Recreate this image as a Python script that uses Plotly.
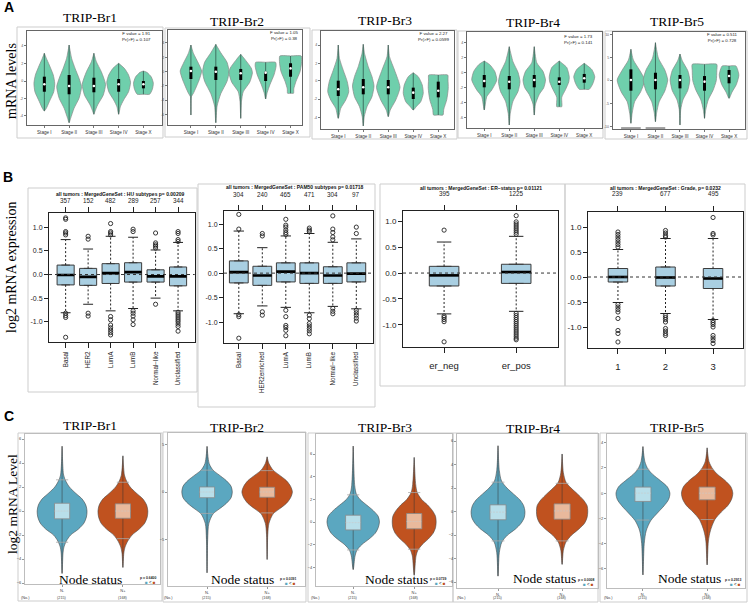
import plotly.graph_objects as go

W, H = 748, 605
SERIF = "Liberation Serif, Times New Roman, serif"
SANS = "Liberation Sans, Arial, sans-serif"
MINT = "#6fcfac"
LIGHTBLUE = "#a9cfe2"
C_BLUE = "#5ba7c0"
C_ORANGE = "#c0521f"
C_BLUE_BOX = "#b9dfea"
C_ORANGE_BOX = "#e9b99c"

# ---------------- Panel A : expression by stage ----------------
A_GENES = ["TRIP-Br1", "TRIP-Br2", "TRIP-Br3", "TRIP-Br4", "TRIP-Br5"]
A_STAGES = ["Stage I", "Stage II", "Stage III", "Stage IV", "Stage X"]
A_FVALUES = ["1.91", "1.05", "2.27", "1.73", "0.511"]
A_PVALUES = ["0.107", "0.38", "0.0599", "0.141", "0.728"]

BR1_LEVELS = [
    [1.49, 1.78, 2.48, 3.54, 4.44, 5.32, 6.38, 7.1, 7.63],
    [0.24, 0.71, 1.78, 2.84, 4.07, 4.97, 6.03, 7.1, 8.51],
    [1.14, 1.41, 2.13, 3.19, 4.33, 5.67, 6.73, 7.63],
    [1.14, 1.95, 2.66, 3.54, 4.54, 5.32, 6.03, 6.56],
    [3.27, 3.27, 3.8, 4.44, 5.1, 5.6, 5.74],
]
BR1_WIDTHS = [
    [0, 0.08, 0.2, 0.38, 0.42, 0.36, 0.2, 0.08, 0],
    [0, 0.06, 0.2, 0.4, 0.5, 0.4, 0.24, 0.1, 0],
    [0, 0.04, 0.15, 0.38, 0.47, 0.3, 0.1, 0],
    [0, 0.07, 0.2, 0.4, 0.48, 0.4, 0.23, 0],
    [0, 0.25, 0.36, 0.4, 0.32, 0.14, 0],
]
BR1_Q1 = [3.54, 3.27, 3.48, 3.54, 3.9]
BR1_MED = [4.33, 4.15, 4.15, 4.33, 4.33]
BR1_Q3 = [5.14, 5.32, 5.03, 4.89, 4.68]

BR2_LEVELS = [
    [1.05, 2.98, 3.34, 4.74, 5.68, 6.5, 7.55, 8.42],
    [0.24, 2.0, 3.3, 4.6, 5.61, 6.6, 7.6, 8.49],
    [0.7, 2.5, 3.5, 4.5, 5.5, 6.0, 6.8, 7.44],
    [2.74, 3.4, 4.3, 5.3, 6.2, 6.6, 6.6],
    [3.34, 3.34, 3.8, 4.6, 5.6, 6.5, 7.26, 7.26],
]
BR2_WIDTHS = [
    [0, 0.02, 0.1, 0.33, 0.43, 0.3, 0.1, 0],
    [0, 0.05, 0.2, 0.45, 0.53, 0.45, 0.2, 0],
    [0, 0.03, 0.1, 0.36, 0.47, 0.42, 0.2, 0],
    [0, 0.06, 0.18, 0.34, 0.42, 0.4, 0],
    [0, 0.12, 0.13, 0.22, 0.38, 0.44, 0.43, 0],
]
BR2_Q1 = [4.84, 4.74, 4.74, 4.63, 5.08]
BR2_MED = [5.68, 5.61, 5.44, 5.51, 5.96]
BR2_Q3 = [6.14, 6.14, 5.9, 5.61, 6.5]

BR3_LEVELS = [
    [1.09, 2.11, 2.96, 3.8, 4.83, 6.0, 7.2, 8.57],
    [0.31, 1.26, 2.28, 3.3, 4.39, 5.34, 6.36, 7.72, 8.64],
    [1.26, 1.94, 2.96, 4.25, 6.02, 7.38, 8.57],
    [1.94, 2.28, 2.79, 3.64, 4.49, 5.34, 5.74],
    [1.43, 1.43, 2.0, 3.0, 4.15, 5.0, 5.51, 5.51],
]
BR3_WIDTHS = [
    [0, 0.1, 0.3, 0.42, 0.36, 0.2, 0.05, 0],
    [0, 0.04, 0.15, 0.35, 0.43, 0.35, 0.2, 0.05, 0],
    [0, 0.08, 0.3, 0.47, 0.25, 0.05, 0],
    [0, 0.12, 0.3, 0.4, 0.36, 0.2, 0],
    [0, 0.19, 0.22, 0.34, 0.4, 0.39, 0.38, 0],
]
BR3_Q1 = [3.37, 3.54, 3.54, 3.06, 3.23]
BR3_MED = [4.05, 4.26, 4.26, 3.71, 3.9]
BR3_Q3 = [4.93, 5.1, 5.0, 4.22, 4.83]

BR4_LEVELS = [
    [1.88, 3.26, 3.96, 5.0, 5.9, 6.6, 6.98],
    [0.31, 1.5, 2.8, 3.8, 4.82, 5.8, 6.9, 8.47],
    [1.35, 2.5, 3.5, 4.2, 5.0, 5.9, 6.8, 8.47],
    [2.22, 2.22, 3.2, 4.0, 4.8, 5.34, 6.3, 6.98],
    [4.03, 4.03, 4.6, 5.34, 6.1, 6.74],
]
BR4_WIDTHS = [
    [0, 0.1, 0.3, 0.5, 0.42, 0.22, 0],
    [0, 0.04, 0.15, 0.35, 0.43, 0.35, 0.15, 0],
    [0, 0.05, 0.2, 0.38, 0.45, 0.35, 0.1, 0],
    [0, 0.1, 0.1, 0.25, 0.38, 0.4, 0.3, 0],
    [0, 0.2, 0.34, 0.42, 0.3, 0],
]
BR4_Q1 = [4.24, 4.03, 4.24, 4.48, 4.72]
BR4_MED = [4.9, 4.82, 5.0, 4.82, 5.18]
BR4_Q3 = [5.52, 5.42, 5.52, 5.28, 5.63]

BR5_LEVELS = [
    [0.59, 1.62, 2.81, 3.85, 5.05, 6.08, 7.11, 8.22],
    [0.75, 1.7, 2.8, 3.9, 5.05, 6.1, 7.3, 8.9],
    [0.41, 2.0, 3.0, 4.0, 5.05, 6.0, 7.0, 7.73],
    [1.1, 2.0, 3.0, 4.0, 5.0, 6.0, 6.67, 6.67],
    [3.16, 3.8, 4.6, 5.57, 6.5, 6.5],
]
BR5_WIDTHS = [
    [0, 0.05, 0.15, 0.4, 0.56, 0.35, 0.1, 0],
    [0, 0.05, 0.15, 0.38, 0.5, 0.38, 0.12, 0],
    [0, 0.03, 0.12, 0.32, 0.4, 0.32, 0.1, 0],
    [0, 0.05, 0.15, 0.35, 0.48, 0.5, 0.5, 0],
    [0, 0.12, 0.3, 0.4, 0.28, 0],
]
BR5_Q1 = [3.95, 4.09, 4.19, 3.95, 4.71]
BR5_MED = [5.05, 5.05, 5.05, 4.88, 5.46]
BR5_Q3 = [6.15, 5.8, 5.57, 5.46, 6.08]
BR5_FLOOR_STAGES = [0, 1]
BR5_FLOOR_LEVEL = 0.1
BR5_FLOOR_HALF = 0.4

A_YTICKVALS = [
    [0.99, 2.84, 4.68, 6.56, 8.44],
    [1.13, 2.63, 4.11, 5.61, 7.13, 8.66],
    [1.19, 3.06, 4.9, 6.7, 8.57],
    [1.11, 2.64, 4.24, 5.8, 7.36, 8.89],
    [0.24, 2.65, 5.05, 7.39, 9.76],
]
A_YTICKTEXT = [
    ["-4", "-2", "0", "2", "4"],
    ["-6", "-4", "-2", "0", "2", "4"],
    ["-4", "-2", "0", "2", "4"],
    ["-6", "-4", "-2", "0", "2", "4"],
    ["-10", "-5", "0", "5", "10"],
]

# ---------------- Panel B : subtype boxplots ----------------
B_TITLES = [
    "all tumors : MergedGeneSet : HU subtypes p= 0.00209",
    "all tumors : MergedGeneSet : PAM50 subtypes p= 0.01718",
    "all tumors : MergedGeneSet : ER\u2212status p= 0.01121",
    "all tumors : MergedGeneSet : Grade, p= 0.0232",
]
B1_CATS = ["Basal", "HER2", "LumA", "LumB", "Normal\u2212like", "Unclassified"]
B1_COUNTS = ["357", "152", "482", "289", "257", "344"]
B1_Q1 = [-0.22, -0.23, -0.19, -0.16, -0.16, -0.24]
B1_MED = [-0.01, -0.05, 0.03, 0.05, -0.04, -0.04]
B1_Q3 = [0.2, 0.13, 0.23, 0.25, 0.1, 0.16]
B1_LO = [-0.81, -0.63, -0.77, -0.72, -0.5, -0.77]
B1_HI = [0.74, 0.54, 0.81, 0.79, 0.52, 0.68]
B1_OUT = [
    [1.2, 1.17, 0.91, 0.88, 0.84, -0.82, -0.87, -0.91, -1.33],
    [0.81, 0.75, -0.82, -0.88],
    [1.08, 0.91, 0.88, 0.84, -0.89, -0.96, -1.07, -1.13, -1.18, -1.23, -1.28],
    [0.96, 0.91, -0.77, -0.82, -0.88, -0.96, -1.06],
    [0.88, 0.67, 0.63, 0.6, 0.56, -0.63],
    [0.91, 0.87, 0.74, 0.7, -0.8, -0.84, -0.88, -0.92, -0.96, -1.0, -1.05, -1.1, -1.2],
]

B2_CATS = ["Basal", "HER2enriched", "LumA", "LumB", "Normal\u2212like", "Unclassified"]
B2_COUNTS = ["304", "240", "465", "471", "304", "97"]
B2_Q1 = [-0.2, -0.25, -0.18, -0.21, -0.21, -0.18]
B2_MED = [0.02, -0.05, 0.03, 0.0, -0.05, -0.01]
B2_Q3 = [0.25, 0.14, 0.21, 0.21, 0.13, 0.21]
B2_LO = [-0.83, -0.67, -0.7, -0.81, -0.68, -0.73]
B2_HI = [0.86, 0.52, 0.76, 0.81, 0.63, 0.7]
B2_OUT = [
    [1.2, 0.9, -0.85, -0.89, -1.33],
    [0.81, 0.76, -0.79, -0.86],
    [1.1, 0.98, 0.94, 0.88, 0.83, 0.79, -0.76, -0.89, -1.07, -1.11, -1.17, -1.28],
    [0.92, 0.88, 0.85, -0.86, -0.93, -1.03, -1.08, -1.13, -1.18, -1.24],
    [1.17, 0.9, 0.83, 0.74, 0.68, -0.72, -0.78, -0.83],
    [0.94, 0.81, -0.76, -0.81, -0.86, -0.92, -0.98],
]

B3_CATS = ["er_neg", "er_pos"]
B3_COUNTS = ["395", "1225"]
B3_Q1 = [-0.25, -0.2]
B3_MED = [-0.045, 0.02]
B3_Q3 = [0.13, 0.17]
B3_LO = [-0.79, -0.74]
B3_HI = [0.6, 0.71]
B3_OUT = [
    [0.83, -0.83, -0.86, -0.9, -0.94, -1.33],
    [1.11, 0.99, 0.95, 0.91, 0.87, 0.83, 0.79, 0.75,
     -0.78, -0.82, -0.86, -0.9, -0.94, -0.98, -1.02, -1.06, -1.1, -1.14, -1.18, -1.22, -1.26, -1.29],
]

B4_CATS = ["1", "2", "3"]
B4_COUNTS = ["239", "677", "495"]
B4_Q1 = [-0.1, -0.18, -0.23]
B4_MED = [0.0, -0.01, -0.03]
B4_Q3 = [0.17, 0.2, 0.17]
B4_LO = [-0.51, -0.73, -0.85]
B4_HI = [0.55, 0.77, 0.77]
B4_OUT = [
    [0.9, 0.85, 0.8, 0.75, 0.7, 0.65, 0.6, -0.55, -0.6, -0.65, -0.7, -0.83, -1.07, -1.13, -1.3],
    [0.93, 0.88, 0.83, 0.8, -0.77, -0.81, -0.85, -0.9, -1.03, -1.08, -1.13, -1.17],
    [1.19, 0.87, 0.84, -0.87, -0.91, -0.95, -1.0, -1.17, -1.22, -1.27, -1.33],
]

B_YTICKS = [-1.0, -0.5, 0.0, 0.5, 1.0]
B_YTICKTEXT = ["-1.0", "-0.5", "0.0", "0.5", "1.0"]

# ---------------- Panel C : node status violins ----------------
C_GROUPS = ["N-", "N+"]
C_COUNTS = ["(215)", "(168)"]
C_PVALUES = ["0.6400", "0.0391", "0.0739", "0.0008", "0.2913"]
C_YTICKS = [[-6, -4, -2, 0, 2, 4, 6], [-5, 0, 5], [-4, -2, 0, 2, 4, 6],
            [-6, -4, -2, 0, 2, 4, 6], [-6, -4, -2, 0, 2, 4]]

C_NEG_LEVELS = [
    [-5.2, -3.5, -3.0, -2.5, -2.0, -1.5, -1.0, -0.5, 0.0, 0.5, 1.0, 1.5, 2.0, 2.5, 3.0, 5.4],
    [-8.5, -5.0, -3.3, -2.3, -1.8, -1.2, -0.6, 0.0, 0.6, 1.2, 1.8, 2.3, 3.0, 4.8],
    [-4.2, -3.0, -2.5, -2.0, -1.5, -1.0, -0.5, 0.0, 0.5, 1.0, 1.5, 2.0, 2.5, 3.2, 6.7],
    [-5.5, -3.5, -2.6, -2.0, -1.5, -1.0, -0.5, 0.0, 0.5, 1.0, 1.5, 2.0, 2.6, 3.5, 5.6],
    [-6.5, -4.0, -3.0, -2.2, -1.5, -1.0, -0.5, 0.0, 0.5, 1.0, 1.5, 1.9, 2.5, 3.7],
]
C_NEG_WIDTHS = [
    [0, 0.015, 0.03, 0.07, 0.14, 0.27, 0.36, 0.4, 0.41, 0.39, 0.33, 0.22, 0.12, 0.06, 0.025, 0],
    [0, 0.01, 0.03, 0.1, 0.2, 0.32, 0.4, 0.42, 0.4, 0.32, 0.2, 0.1, 0.035, 0],
    [0, 0.03, 0.06, 0.14, 0.26, 0.36, 0.41, 0.43, 0.41, 0.33, 0.22, 0.11, 0.05, 0.025, 0],
    [0, 0.02, 0.06, 0.15, 0.27, 0.36, 0.41, 0.42, 0.4, 0.34, 0.24, 0.14, 0.055, 0.02, 0],
    [0, 0.02, 0.05, 0.12, 0.24, 0.33, 0.4, 0.42, 0.38, 0.27, 0.15, 0.08, 0.03, 0],
]
C_POS_LEVELS = [
    [-4.7, -3.5, -3.0, -2.5, -2.0, -1.5, -1.0, -0.5, 0.0, 0.5, 1.0, 1.5, 2.0, 2.5, 3.0, 4.6],
    [-7.1, -4.5, -3.3, -2.3, -1.8, -1.2, -0.6, 0.0, 0.6, 1.2, 1.8, 2.3, 3.0, 3.7],
    [-4.7, -3.0, -2.5, -2.0, -1.5, -1.0, -0.5, 0.0, 0.5, 1.0, 1.5, 2.0, 2.6, 3.3, 5.7],
    [-4.5, -3.3, -2.6, -2.0, -1.5, -1.0, -0.5, 0.0, 0.5, 1.0, 1.5, 2.0, 2.5, 3.3, 4.9],
    [-5.7, -3.8, -3.0, -2.1, -1.5, -1.0, -0.5, 0.0, 0.5, 1.0, 1.5, 1.9, 2.5, 3.6],
]
C_POS_WIDTHS = [
    [0, 0.015, 0.035, 0.08, 0.15, 0.27, 0.36, 0.4, 0.41, 0.39, 0.33, 0.22, 0.12, 0.06, 0.025, 0],
    [0, 0.01, 0.03, 0.1, 0.2, 0.32, 0.39, 0.42, 0.39, 0.32, 0.2, 0.1, 0.03, 0],
    [0, 0.03, 0.06, 0.13, 0.23, 0.31, 0.35, 0.36, 0.35, 0.3, 0.22, 0.12, 0.05, 0.025, 0],
    [0, 0.02, 0.06, 0.15, 0.26, 0.35, 0.39, 0.4, 0.39, 0.33, 0.24, 0.14, 0.06, 0.02, 0],
    [0, 0.02, 0.05, 0.12, 0.22, 0.32, 0.38, 0.4, 0.37, 0.28, 0.16, 0.09, 0.03, 0],
]
C_NEG_Q1 = [-0.65, -0.6, -0.7, -0.7, -0.66]
C_NEG_MED = [0.0, 0.0, -0.05, -0.05, 0.0]
C_NEG_Q3 = [0.65, 0.53, 0.6, 0.57, 0.48]
C_POS_Q1 = [-0.6, -0.55, -0.6, -0.65, -0.53]
C_POS_MED = [0.0, 0.0, 0.05, 0.05, 0.0]
C_POS_Q3 = [0.6, 0.5, 0.75, 0.65, 0.48]
C_NEG_LO = [-2.6, -2.25, -2.47, -2.5, -2.14]
C_NEG_HI = [2.6, 2.3, 2.4, 2.5, 1.9]
C_POS_LO = [-2.3, -2.2, -2.4, -2.5, -2.1]
C_POS_HI = [2.4, 2.25, 2.6, 2.4, 1.9]
C_BOX_HALF = 0.125

# ---------------- Layout geometry (pixels) ----------------
A_INNER = [(27, 162, 31, 125), (168, 302, 30, 125), (321, 454, 31, 129), (467, 602, 32, 128), (613, 745, 32, 129)]
A_OUTER = [(17, 163, 27, 138), (165, 310, 28, 137), (312, 457, 30, 139), (458, 603, 31, 138), (605, 747, 31, 139)]
A_XRANGE = [(-0.7, 4.75), (-0.92, 4.46), (-0.69, 4.63), (-0.69, 4.71), (-0.73, 4.65)]
A_TITLE_POS = [(90, 18), (237, 21.5), (385, 20.5), (533, 22.5), (677, 21.5)]
A_STAT_POS = [(153, 36.5), (301, 36), (451.5, 36.5), (595, 39), (740, 38)]

B_INNER = [(49, 194.7, 212.7, 342), (224, 373, 210.5, 342.6), (403, 558, 211, 347), (588, 743, 212, 348)]
B_OUTER = [(28, 197, 188, 392), (198, 375, 184, 407), (380, 565, 184, 386), (565, 745, 184, 386)]
B_XRANGE = [(-0.74, 5.74), (-0.63, 5.71), (-0.57, 1.58), (-0.63, 2.63)]
B_YRANGE = [(-1.43, 1.31), (-1.42, 1.28), (-1.43, 1.2), (-1.42, 1.3)]
B_TITLE_POS = [(120, 194), (295, 187.5), (481, 188), (665, 188)]
B_COUNT_Y = [200, 194.5, 194, 194]
B_BOXW = [0.76, 0.8, 0.41, 0.41]
B_CAPW = [0.22, 0.22, 0.1, 0.11]

C_INNER = [(25, 160, 434, 584), (168, 305, 433, 586), (316, 452, 434, 586), (457, 598, 434, 588), (607, 745, 434, 588)]
C_OUTER = [(18, 162, 433, 601), (163, 306, 432, 602), (308, 453, 433, 602), (453, 598, 433, 602), (600, 747, 433, 602)]
C_XRANGE = [(-0.61, 1.61), (-0.65, 1.63), (-0.61, 1.62), (-0.64, 1.56), (-0.56, 1.59)]
C_YRANGE = [(-6.08, 6.42), (-9.89, 6.21), (-5.65, 7.77), (-6.51, 6.6), (-7.54, 4.7)]
C_TITLE_POS = [(90, 425), (237, 427), (385, 427), (533, 428), (677, 427)]
C_NODE_POS = [(90.5, 579), (242, 579), (396, 579), (544, 578), (689, 578)]
C_P_POS = [(158, 578), (298, 579), (448, 579), (596, 580), (743, 580)]
C_NO_X = [25, 168, 315, 461, 608]


def px(x):
    return x / W


def py(y):
    return 1 - y / H


layout = dict(width=W, height=H, margin=dict(l=0, r=0, t=0, b=0),
              paper_bgcolor="white", plot_bgcolor="rgba(0,0,0,0)", showlegend=False,
              font=dict(family=SANS, color="#222"))
traces, shapes, ann = [], [], []


def ids(n):
    if n == 1:
        return "xaxis", "yaxis", "x", "y"
    return f"xaxis{n}", f"yaxis{n}", f"x{n}", f"y{n}"


def make_axes(n, inner, xr, yr, xkw, ykw):
    xk, yk, xid, yid = ids(n)
    x0, x1, y0, y1 = inner
    xa = dict(domain=[px(x0), px(x1)], range=list(xr), anchor=yid, showgrid=False,
              zeroline=False, showline=True, mirror=True, fixedrange=True)
    ya = dict(domain=[py(y1), py(y0)], range=list(yr), anchor=xid, showgrid=False,
              zeroline=False, showline=True, mirror=True, fixedrange=True)
    xa.update(xkw)
    ya.update(ykw)
    layout[xk] = xa
    layout[yk] = ya
    return xid, yid


def frame(box, color="#cdcdcd", width=1):
    x0, x1, y0, y1 = box
    shapes.append(dict(type="rect", xref="paper", yref="paper", x0=px(x0), x1=px(x1),
                       y0=py(y1), y1=py(y0), line=dict(color=color, width=width),
                       fillcolor="rgba(0,0,0,0)", layer="below"))


def label(x, y, s, size, family=SANS, color="#111", xanchor="center", angle=0, xref="paper"):
    ann.append(dict(x=px(x) if xref == "paper" else x, y=py(y), xref=xref, yref="paper",
                    text=s, showarrow=False, xanchor=xanchor, yanchor="middle", textangle=angle,
                    font=dict(size=size, family=family, color=color)))


def outline(c, levels, widths):
    xs = [c + w for w in widths] + [c - w for w in reversed(widths)]
    ys = list(levels) + list(reversed(levels))
    return xs, ys


def seg_trace(xs, ys, xid, yid, color, width, dash="solid"):
    return go.Scatter(x=xs, y=ys, mode="lines", line=dict(color=color, width=width, dash=dash),
                      xaxis=xid, yaxis=yid, hoverinfo="skip")


# ---------- Panel A ----------
A_DATA = [
    (BR1_LEVELS, BR1_WIDTHS, BR1_Q1, BR1_MED, BR1_Q3),
    (BR2_LEVELS, BR2_WIDTHS, BR2_Q1, BR2_MED, BR2_Q3),
    (BR3_LEVELS, BR3_WIDTHS, BR3_Q1, BR3_MED, BR3_Q3),
    (BR4_LEVELS, BR4_WIDTHS, BR4_Q1, BR4_MED, BR4_Q3),
    (BR5_LEVELS, BR5_WIDTHS, BR5_Q1, BR5_MED, BR5_Q3),
]
for i in range(5):
    n = i + 1
    frame(A_OUTER[i])
    xid, yid = make_axes(
        n, A_INNER[i], A_XRANGE[i], (0, 10),
        dict(tickvals=list(range(5)), ticktext=A_STAGES, tickfont=dict(size=4.6, color="#333"),
             ticks="outside", ticklen=2, tickcolor="#777", linecolor="#666", linewidth=1.3),
        dict(tickvals=A_YTICKVALS[i], ticktext=A_YTICKTEXT[i], tickfont=dict(size=3.6, color="#555"),
             ticks="outside", ticklen=2, tickcolor="#777", linecolor="#666", linewidth=1.3))
    levels, widths, q1, med, q3 = A_DATA[i]
    for j in range(5):
        xs, ys = outline(j, levels[j], widths[j])
        traces.append(go.Scatter(x=xs, y=ys, mode="lines", fill="toself", fillcolor=MINT,
                                 line=dict(color="#8a8a8a", width=0.7, shape="spline", smoothing=0.6),
                                 xaxis=xid, yaxis=yid, hoverinfo="skip"))
    wx, wy, bx, by = [], [], [], []
    for j in range(5):
        wx += [j, j, None]
        wy += [levels[j][0], levels[j][-1], None]
        bx += [j, j, None]
        by += [q1[j], q3[j], None]
    traces.append(seg_trace(wx, wy, xid, yid, "#31594e", 0.8))
    traces.append(seg_trace(bx, by, xid, yid, "black", 3))
    traces.append(go.Scatter(x=list(range(5)), y=med, mode="markers",
                             marker=dict(color="white", size=2.6, line=dict(width=0)),
                             xaxis=xid, yaxis=yid, hoverinfo="skip"))
    if i == 4:
        fx, fy = [], []
        for s in BR5_FLOOR_STAGES:
            fx += [s - BR5_FLOOR_HALF, s + BR5_FLOOR_HALF, None]
            fy += [BR5_FLOOR_LEVEL, BR5_FLOOR_LEVEL, None]
        traces.append(seg_trace(fx, fy, xid, yid, "#8a8a8a", 1.6))
    tx, ty = A_TITLE_POS[i]
    label(tx, ty, A_GENES[i], 13.5, family=SERIF, color="#000")
    sx, sy = A_STAT_POS[i]
    label(sx, sy, f"F value = {A_FVALUES[i]}<br>Pr(>F) = {A_PVALUES[i]}", 4.4,
          color="#222", xanchor="right")

label(8.5, 7, "<b>A</b>", 14, color="#000")
label(12, 81, "mRNA levels", 14, family=SERIF, color="#000", angle=-90)

# ---------- Panel B ----------
B_DATA = [
    (B1_CATS, B1_COUNTS, B1_Q1, B1_MED, B1_Q3, B1_LO, B1_HI, B1_OUT),
    (B2_CATS, B2_COUNTS, B2_Q1, B2_MED, B2_Q3, B2_LO, B2_HI, B2_OUT),
    (B3_CATS, B3_COUNTS, B3_Q1, B3_MED, B3_Q3, B3_LO, B3_HI, B3_OUT),
    (B4_CATS, B4_COUNTS, B4_Q1, B4_MED, B4_Q3, B4_LO, B4_HI, B4_OUT),
]
for i, (cats, counts, q1, med, q3, lo, hi, outs) in enumerate(B_DATA):
    n = 6 + i
    big = i >= 2
    frame(B_OUTER[i])
    xid, yid = make_axes(
        n, B_INNER[i], B_XRANGE[i], B_YRANGE[i],
        dict(tickvals=list(range(len(cats))), ticktext=cats, tickangle=0 if big else -90,
             tickfont=dict(size=9.5 if big else 6.3, color="#222"), ticks="outside", ticklen=5,
             tickcolor="#222", linecolor="#222", linewidth=1,
             ticklabelstandoff=5 if big else 1),
        dict(tickvals=B_YTICKS, ticktext=B_YTICKTEXT, tickfont=dict(size=8 if big else 7, color="#222"),
             ticks="outside", ticklen=4, tickcolor="#222", linecolor="#222", linewidth=1))
    topk = f"xaxis{15 + i}"
    topid = f"x{15 + i}"
    layout[topk] = dict(overlaying=xid, side="top", anchor=yid, range=list(B_XRANGE[i]),
                        tickvals=list(range(len(cats))), showticklabels=False, ticks="outside",
                        ticklen=5, tickcolor="#222", showgrid=False, zeroline=False,
                        showline=False, fixedrange=True)
    shapes.append(dict(type="line", xref=f"{xid} domain", yref=yid, x0=0, x1=1, y0=0, y1=0,
                       line=dict(color="#333", width=1, dash="3px,3px"), layer="above"))
    k = len(cats)
    bw = B_BOXW[i]
    cw = B_CAPW[i]
    wx, wy, cx, cy = [], [], [], []
    for j in range(k):
        wx += [j, j, None, j, j, None]
        wy += [q3[j], hi[j], None, q1[j], lo[j], None]
        cx += [j - cw, j + cw, None, j - cw, j + cw, None]
        cy += [hi[j], hi[j], None, lo[j], lo[j], None]
    traces.append(seg_trace(wx, wy, xid, yid, "#222", 1, dash="2px,2px"))
    traces.append(seg_trace(cx, cy, xid, yid, "#222", 1))
    traces.append(go.Box(x=list(range(k)), q1=q1, median=med, q3=q3, lowerfence=q1, upperfence=q3,
                         width=bw, fillcolor=LIGHTBLUE, line=dict(color="#3c3c3c", width=1),
                         boxpoints=False, xaxis=xid, yaxis=yid, hoverinfo="skip"))
    mx, my = [], []
    for j in range(k):
        mx += [j - bw / 2, j + bw / 2, None]
        my += [med[j], med[j], None]
    traces.append(seg_trace(mx, my, topid, yid, "black", 2.6))
    ox, oy = [], []
    for j in range(k):
        ox += [j] * len(outs[j])
        oy += outs[j]
    traces.append(go.Scatter(x=ox, y=oy, mode="markers",
                             marker=dict(symbol="circle-open", size=4.2, color="#222", line=dict(width=0.9)),
                             xaxis=xid, yaxis=yid, hoverinfo="skip"))
    tx, ty = B_TITLE_POS[i]
    label(tx, ty, f"<b>{B_TITLES[i]}</b>", 5, color="#111")
    for j in range(k):
        label(j, B_COUNT_Y[i], counts[j], 6.3, color="#222", xref=xid)

label(8, 177, "<b>B</b>", 14, color="#000")
label(12, 268, "log2 mRNA expression", 14, family=SERIF, color="#000", angle=-90)

# ---------- Panel C ----------
for i in range(5):
    n = 10 + i
    frame(C_OUTER[i])
    xid, yid = make_axes(
        n, C_INNER[i], C_XRANGE[i], C_YRANGE[i],
        dict(tickvals=[0, 1], ticktext=C_GROUPS, tickfont=dict(size=4, color="#444"),
             ticks="outside", ticklen=2, tickcolor="#999", linecolor="#bdbdbd", linewidth=1),
        dict(tickvals=C_YTICKS[i], tickfont=dict(size=4, color="#444"), ticks="outside",
             ticklen=2, tickcolor="#999", linecolor="#bdbdbd", linewidth=1))
    groups = [
        (0, C_NEG_LEVELS[i], C_NEG_WIDTHS[i], C_NEG_Q1[i], C_NEG_MED[i], C_NEG_Q3[i],
         C_NEG_LO[i], C_NEG_HI[i], C_BLUE, C_BLUE_BOX),
        (1, C_POS_LEVELS[i], C_POS_WIDTHS[i], C_POS_Q1[i], C_POS_MED[i], C_POS_Q3[i],
         C_POS_LO[i], C_POS_HI[i], C_ORANGE, C_ORANGE_BOX),
    ]
    for (g, lv, wd, a1, md, a3, lo, hi, col, boxcol) in groups:
        xs, ys = outline(g, lv, wd)
        traces.append(go.Scatter(x=xs, y=ys, mode="lines", fill="toself", fillcolor=col,
                                 line=dict(color="#4a4a4a", width=0.6, shape="spline", smoothing=0.8),
                                 xaxis=xid, yaxis=yid, hoverinfo="skip"))
        traces.append(seg_trace([g, g], [lv[0], lv[-1]], xid, yid, "#333", 0.5))
        traces.append(seg_trace([g - 0.1, g + 0.1, None, g - 0.1, g + 0.1],
                                [hi, hi, None, lo, lo], xid, yid, "#a8a8a8", 0.8))
        h = C_BOX_HALF
        traces.append(go.Scatter(x=[g - h, g + h, g + h, g - h, g - h], y=[a1, a1, a3, a3, a1],
                                 mode="lines", fill="toself", fillcolor=boxcol,
                                 line=dict(color="#8a8a8a", width=0.8),
                                 xaxis=xid, yaxis=yid, hoverinfo="skip"))
        traces.append(seg_trace([g - h, g + h], [md, md], xid, yid, "#c9c9c9", 0.6, dash="2px,1px"))
    tx, ty = C_TITLE_POS[i]
    label(tx, ty, A_GENES[i], 13.5, family=SERIF, color="#000")
    nx, ny = C_NODE_POS[i]
    label(nx, ny, "Node status", 13.5, family=SERIF, color="#000")
    ppx, ppy = C_P_POS[i]
    label(ppx, ppy, f"<b>p = {C_PVALUES[i]}</b>", 3.4, color="#222", xanchor="right")
    label(ppx, ppy + 4.5,
          f"<span style='color:{C_BLUE}'>\u25A0</span> < <span style='color:{C_ORANGE}'>\u25A0</span>",
          4.5, color="#222", xanchor="right")
    label(C_NO_X[i], 598, "(No.)", 3.8, color="#444")
    for g in range(2):
        label(g, 598, C_COUNTS[g], 3.8, color="#444", xref=xid)

label(9, 416, "<b>C</b>", 14, color="#000")
label(12, 504, "log2 mRNA Level", 13.5, family=SERIF, color="#000", angle=-90)

layout["shapes"] = shapes
layout["annotations"] = ann
fig = go.Figure(data=traces, layout=layout)
fig.write_html("out.html", config={"displayModeBar": False},
               post_script="document.body.style.margin='0px';document.body.style.padding='0px';"
                           "document.body.style.overflow='hidden';")
